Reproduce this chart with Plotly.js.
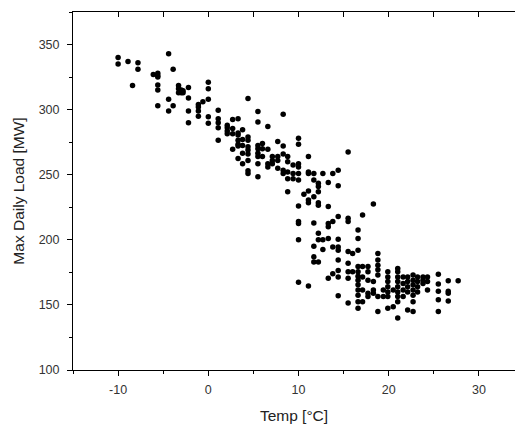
<!DOCTYPE html>
<html>
<head>
<meta charset="utf-8">
<script src="https://cdn.plot.ly/plotly-3.0.1.min.js"></script>
<style>html,body{margin:0;padding:0;background:#fff;}#chart{width:515px;height:425px;}</style>
</head>
<body>
<div id="chart"></div>
<script>
// Temperature [°C] of each day
var temp = [
  -10,-10, -8.9, -8.4, -7.8,-7.8, -6.1,
  -5.6,-5.6,-5.6,-5.6,-5.6,-5.6,
  -4.4,-4.4,-4.4, -3.9,-3.9, -3.3,-3.3,-3.3, -3.0,-3.0, -2.8,-2.8,
  -2.2,-2.2,-2.2,-2.2, -1.1,-1.1,-1.1,-1.1, -0.6,
  0,0,0,0,0, 1.1,1.1,1.1,1.1,1.1, 2.1,2.1,2.1,2.1, 2.7,2.7,2.7,2.7,
  3.3,3.3,3.3,3.3,3.3,3.3,3.3, 3.8,3.8,3.8,3.8,3.8,
  4.4,4.4,4.4,4.4,4.4,4.4,4.4,4.4,4.4,
  5.5,5.5,5.5,5.5,5.5,5.5,5.5,5.5, 6.0,6.0,6.0, 6.6,6.6,6.6,6.6,
  7.1,7.1,7.1, 7.7,7.7,7.7,7.7, 8.3,8.3,8.3,8.3,8.3, 8.8,8.8,8.8,8.8,8.8,
  9.4,9.4,9.4,
  10,10,10,10,10,10,10,10,10,10,10, 10.6,
  11.1,11.1,11.1,11.1,11.1,11.1,11.1,
  11.7,11.7,11.7,11.7,11.7,11.7,11.7,
  12.2,12.2,12.2,12.2,12.2,12.2,12.2,12.2, 12.7,12.7,12.7,
  13.3,13.3,13.3,13.3,13.3,13.3, 13.8,13.8,13.8,13.8,
  14.4,14.4,14.4,14.4,14.4,14.4,14.4,14.4,14.4,14.4,
  15.5,15.5,15.5,15.5,15.5,15.5,15.5,15.5, 16.0,16.0,
  16.6,16.6,16.6,16.6,16.6,16.6,16.6,16.6,16.6,16.6,16.6,16.6,
  17.1,17.1,17.1,17.1,17.1, 17.7,17.7,17.7,17.7,17.7, 18.3,18.3,18.3,18.3,
  18.8,18.8,18.8,18.8,18.8,18.8,18.8, 19.4,19.4,
  19.9,19.9,19.9,19.9,19.9,19.9,19.9, 20.5,20.5,
  21.0,21.0,21.0,21.0,21.0,21.0,21.0,21.0,21.0, 21.6,21.6,21.6,21.6,
  22.1,22.1,22.1,22.1,22.1, 22.7,22.7,22.7,22.7,22.7,22.7,22.7,
  23.2,23.2,23.2,23.2, 23.8,23.8,23.8, 24.3,24.3,24.3,
  25.5,25.5,25.5,25.5,25.5, 26.6,26.6,26.6,26.6, 27.7
];
// Max daily load [MW] of each day
var load = [
  340,335, 337, 318.5, 336,331, 327,
  328,326,325,319,315,303,
  343,308,299, 331,303, 318.5,316,313, 315,313, 314.5,313,
  317,309,299,290, 304,302,299,295, 306,
  321,316,308,294.5,289.5, 299.5,293,290,286,276.5, 288,286,283.5,281.5, 292.5,285.5,281.5,269.5,
  293,282,280.5,276.5,273.5,272,262.5, 284.5,277,272.5,266.5,258.5,
  308.5,279,276.5,271.5,269,266,261,253,251,
  298.5,290.5,272.5,270,266.5,264,258.5,248.5, 274,270,264, 287,269.5,258.5,256,
  264,261,258.5, 275.5,264,261,255, 296.5,272,266,253.5,251, 264,260,252,247,237,
  257.5,251,247,
  278,273.5,258.5,256,251,246,226,214,212.5,200,167.5, 235,
  264,252,251,237.5,230.5,228.5,164.5,
  251,246,233,213,195,187,183,
  243.5,241,237,228.5,226.5,205,200,183, 251,200,192.5,
  244,225.5,212.5,210,201,170.5, 251,214,194.5,174,
  253.5,241.5,218,200.5,194.5,192,184.5,176.5,171.5,157,
  267.5,216.5,214,191,182,175.5,170.5,151.5, 189.5,175.5,
  207.5,201,192,179.5,175.5,172,169,165.5,161.5,157.5,152.5,147.5,
  219,179.5,171.5,161.5,152.5, 179.5,175.5,169,159,156.5, 227.5,168,161.5,159,
  189.5,184.5,180.5,177,173,156.5,145, 161.5,156.5,
  175.5,171.5,168,164,160,156.5,147.5, 161.5,148.5,
  178,175.5,171.5,168,164,160,156.5,152.5,140, 171.5,166.5,161.5,156.5,
  171.5,168,164,160,146, 173,169,165.5,161.5,157.5,152.5,145,
  171.5,168,164,160, 171.5,169,166.5, 171.5,168,161.5,
  173.5,166,160.5,154,145, 168.5,160.5,159,153, 168.5
];

var xTickVals = [-10, 0, 10, 20, 30];
var xTickText = ['-10', '0', '10', '20', '30'];
var yTickVals = [100, 150, 200, 250, 300, 350];
var yTickText = ['100', '150', '200', '250', '300', '350'];

var fontFam = 'Liberation Sans, Arial, sans-serif';
var trace = {
  x: temp, y: load, type: 'scatter', mode: 'markers',
  marker: {color: '#000', size: 5.5, line: {width: 0}},
  hoverinfo: 'skip', showlegend: false
};
var topTrace = {x: [], y: [], xaxis: 'x2', yaxis: 'y', type: 'scatter', mode: 'markers', showlegend: false};

var layout = {
  width: 515, height: 425,
  margin: {l: 73, r: 0, t: 12, b: 55, pad: 0},
  paper_bgcolor: '#fff', plot_bgcolor: '#fff',
  font: {family: fontFam, color: '#333', size: 12},
  showlegend: false,
  xaxis: {
    range: [-15, 34], tickvals: xTickVals, ticktext: xTickText, ticks: 'outside', ticklen: 5, tickwidth: 1, tickcolor: '#000',
    minor: {dtick: 5, tick0: 0, ticks: 'outside', ticklen: 3, tickwidth: 1, tickcolor: '#000', showgrid: false},
    showline: true, linecolor: '#000', linewidth: 1, showgrid: false, zeroline: false,
    ticklabelstandoff: 3,
    tickfont: {size: 12.5, color: '#333', family: fontFam},
    title: {text: 'Temp [°C]', font: {size: 15.5, color: '#222', family: fontFam}, standoff: 14}
  },
  xaxis2: {
    overlaying: 'x', side: 'top', range: [-15, 34], dtick: 5, tick0: 0, ticks: 'inside', ticklen: 5,
    tickwidth: 1, tickcolor: '#000', showticklabels: false, showline: true, linecolor: '#000',
    linewidth: 1, showgrid: false, zeroline: false
  },
  yaxis: {
    range: [100, 375], tickvals: yTickVals, ticktext: yTickText, ticks: 'outside', ticklen: 5, tickwidth: 1, tickcolor: '#000',
    minor: {dtick: 25, tick0: 0, ticks: 'outside', ticklen: 3, tickwidth: 1, tickcolor: '#000', showgrid: false},
    showline: true, linecolor: '#000', linewidth: 1, showgrid: false, zeroline: false,
    ticklabelstandoff: 5,
    tickfont: {size: 12.5, color: '#333', family: fontFam},
    title: {text: 'Max Daily Load [MW]', font: {size: 15.5, color: '#222', family: fontFam}, standoff: 10}
  }
};

Plotly.newPlot('chart', [trace, topTrace], layout, {displayModeBar: false, staticPlot: true});
</script>
</body>
</html>
